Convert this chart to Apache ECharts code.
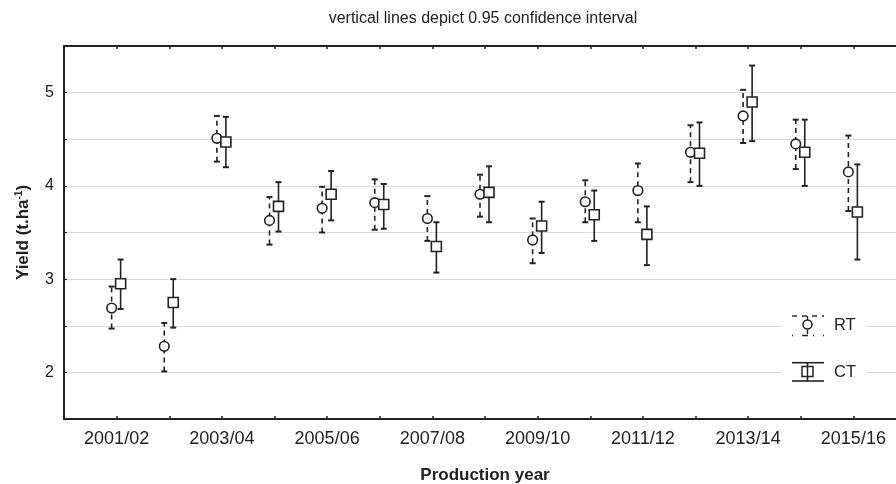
<!DOCTYPE html>
<html>
<head>
<meta charset="utf-8">
<script src="https://cdn.jsdelivr.net/npm/echarts@6/dist/echarts.min.js"></script>
<style>html,body{margin:0;padding:0;background:#fff}#c{width:896px;height:484px}</style>
</head>
<body>
<div id="c"></div>
<script>
const categories = ['2001/02','2002/03','2003/04','2004/05','2005/06','2006/07','2007/08','2008/09','2009/10','2010/11','2011/12','2012/13','2013/14','2014/15','2015/16'];
const rtMean = [2.69, 2.28, 4.51, 3.63, 3.76, 3.82, 3.65, 3.91, 3.42, 3.83, 3.95, 4.36, 4.75, 4.45, 4.15];
const rtLow  = [2.47, 2.01, 4.26, 3.37, 3.50, 3.53, 3.41, 3.67, 3.17, 3.61, 3.61, 4.04, 4.46, 4.18, 3.73];
const rtHigh = [2.92, 2.53, 4.75, 3.88, 3.99, 4.07, 3.89, 4.12, 3.65, 4.06, 4.24, 4.65, 5.03, 4.71, 4.54];
const ctMean = [2.95, 2.75, 4.47, 3.78, 3.91, 3.80, 3.35, 3.93, 3.57, 3.69, 3.48, 4.35, 4.90, 4.36, 3.72];
const ctLow  = [2.68, 2.48, 4.20, 3.51, 3.63, 3.54, 3.07, 3.61, 3.28, 3.41, 3.15, 4.00, 4.48, 4.00, 3.21];
const ctHigh = [3.21, 3.00, 4.74, 4.04, 4.16, 4.02, 3.61, 4.21, 3.83, 3.95, 3.78, 4.68, 5.29, 4.71, 4.23];
const yTicks = [2, 3, 4, 5];

const FONT = "'Liberation Sans', Arial, sans-serif";
const INK = '#222';

function build(mean, low, high) {
  return mean.map((m, i) => [i + 1, m, low[i], high[i]]);
}

function makeRender(kind) {
  const dx = kind === 'RT' ? -5 : 4;
  const dash = kind === 'RT' ? [5, 4] : null;
  return function (params, api) {
    const x = api.value(0);
    const pm = api.coord([x, api.value(1)]);
    const pl = api.coord([x, api.value(2)]);
    const ph = api.coord([x, api.value(3)]);
    const cx = pm[0] + dx;
    const ls = { stroke: INK, lineWidth: 1.6, fill: null };
    const children = [
      { type: 'line', shape: { x1: cx, y1: pl[1], x2: cx, y2: ph[1] }, style: Object.assign({}, ls, dash ? { lineDash: dash } : {}) },
      { type: 'line', shape: { x1: cx - 3, y1: ph[1], x2: cx + 3, y2: ph[1] }, style: Object.assign({}, ls, { lineWidth: 2 }) },
      { type: 'line', shape: { x1: cx - 3, y1: pl[1], x2: cx + 3, y2: pl[1] }, style: Object.assign({}, ls, { lineWidth: 2 }) }
    ];
    if (kind === 'RT') {
      children.push({ type: 'circle', shape: { cx: cx, cy: pm[1], r: 4.8 }, style: { fill: '#fff', stroke: INK, lineWidth: 1.6 } });
    } else {
      children.push({ type: 'rect', shape: { x: cx - 5, y: pm[1] - 5, width: 10, height: 10 }, style: { fill: '#fff', stroke: INK, lineWidth: 1.6 } });
    }
    return { type: 'group', children: children };
  };
}

const chart = echarts.init(document.getElementById('c'), null, { renderer: 'canvas' });

const legendItems = [
  { type: 'rect', shape: { x: 782, y: 302, width: 84, height: 92 }, style: { fill: '#fff' } },
  // RT icon
  { type: 'line', shape: { x1: 792, y1: 316, x2: 824, y2: 316 }, style: { stroke: INK, lineWidth: 1.4, lineDash: [5, 5] } },
  { type: 'line', shape: { x1: 792, y1: 335.5, x2: 824, y2: 335.5 }, style: { stroke: INK, lineWidth: 1.4, lineDash: [1, 9, 6, 5] } },
  { type: 'line', shape: { x1: 807.5, y1: 316, x2: 807.5, y2: 335.5 }, style: { stroke: INK, lineWidth: 1.4, lineDash: [4, 3] } },
  { type: 'circle', shape: { cx: 807.5, cy: 324.5, r: 4.5 }, style: { fill: '#fff', stroke: INK, lineWidth: 1.5 } },
  { type: 'text', style: { x: 834, y: 325, text: 'RT', font: "16.5px " + FONT, fill: INK, textVerticalAlign: 'middle', verticalAlign: 'middle' } },
  // CT icon
  { type: 'line', shape: { x1: 792, y1: 362.7, x2: 824, y2: 362.7 }, style: { stroke: INK, lineWidth: 1.6 } },
  { type: 'line', shape: { x1: 792, y1: 381, x2: 824, y2: 381 }, style: { stroke: INK, lineWidth: 1.6 } },
  { type: 'line', shape: { x1: 807.5, y1: 362.7, x2: 807.5, y2: 381 }, style: { stroke: INK, lineWidth: 1.6 } },
  { type: 'rect', shape: { x: 802, y: 366.5, width: 11, height: 10 }, style: { fill: '#fff', stroke: INK, lineWidth: 1.5 } },
  { type: 'line', shape: { x1: 807.5, y1: 366.5, x2: 807.5, y2: 376.5 }, style: { stroke: INK, lineWidth: 1.4 } },
  { type: 'text', style: { x: 834, y: 372, text: 'CT', font: "16.5px " + FONT, fill: INK, textVerticalAlign: 'middle', verticalAlign: 'middle' } }
].map(function (el, i) { return Object.assign({ z: 100 + i }, el); });

const option = {
  animation: false,
  backgroundColor: '#fff',
  title: {
    text: 'vertical lines depict 0.95 confidence interval',
    left: 478,
    textAlign: 'center',
    top: 6,
    textStyle: { fontFamily: FONT, fontSize: 16, fontWeight: 'normal', color: INK }
  },
  grid: { left: 64, top: 46, width: 842, height: 373, containLabel: false, outerBoundsMode: 'none' },
  xAxis: [
    {
      type: 'value', min: 0, max: 16, interval: 1, position: 'bottom',
      name: 'Production year', nameLocation: 'middle', nameGap: 48,
      nameTextStyle: { fontFamily: FONT, fontSize: 17, fontWeight: 'bold', color: INK },
      axisLine: { show: true, lineStyle: { color: INK, width: 2 } },
      axisTick: { show: true, inside: true, length: 3, lineStyle: { color: INK, width: 1.5 } },
      axisLabel: {
        margin: 11, fontFamily: FONT, fontSize: 18, color: INK,
        formatter: function (v) { return (v % 2 === 1 && categories[v - 1]) ? categories[v - 1] : ''; }
      },
      splitLine: { show: false }
    },
    {
      type: 'value', min: 0, max: 16, interval: 1, position: 'top',
      axisLine: { show: true, lineStyle: { color: INK, width: 2 } },
      axisTick: { show: true, inside: true, length: 3, lineStyle: { color: INK, width: 1.5 } },
      axisLabel: { show: false },
      splitLine: { show: false }
    }
  ],
  yAxis: {
    type: 'value', min: 1.5, max: 5.5, interval: 0.5,
    name: '{a|Yield (t.ha}{sup|-1}{a|)}',
    nameLocation: 'middle', nameGap: 31, nameRotate: 90,
    nameTextStyle: {
      fontFamily: FONT, fontSize: 17, fontWeight: 'bold', color: INK,
      rich: {
        a: { fontFamily: FONT, fontSize: 17, fontWeight: 'bold', color: INK },
        sup: { fontFamily: FONT, fontSize: 10, fontWeight: 'bold', color: INK, padding: [0, 0, 9, 0] }
      }
    },
    axisLine: { show: true, lineStyle: { color: INK, width: 2 } },
    axisTick: { show: true, inside: true, length: 3, lineStyle: { color: INK, width: 1.2 } },
    axisLabel: {
      margin: 10, fontFamily: FONT, fontSize: 16, color: INK,
      formatter: function (v) { return yTicks.indexOf(v) >= 0 ? String(v) : ''; }
    },
    splitLine: { show: true, lineStyle: { color: '#dadada', width: 1.2 } }
  },
  series: [
    { name: 'RT', type: 'custom', renderItem: makeRender('RT'), data: build(rtMean, rtLow, rtHigh), encode: { x: 0, y: [1, 2, 3] }, z: 5 },
    { name: 'CT', type: 'custom', renderItem: makeRender('CT'), data: build(ctMean, ctLow, ctHigh), encode: { x: 0, y: [1, 2, 3] }, z: 6 }
  ],
  graphic: legendItems
};
chart.setOption(option);
</script>
</body>
</html>
